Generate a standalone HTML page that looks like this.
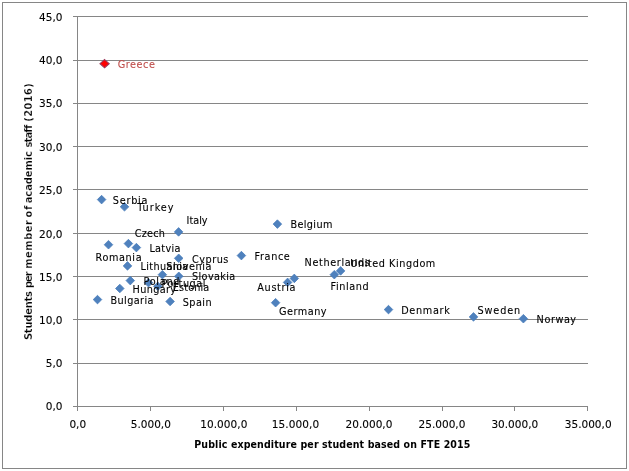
<!DOCTYPE html>
<html lang="en"><head><meta charset="utf-8"><title>Students per member of academic staff vs public expenditure per student</title>
<style>
html,body{margin:0;padding:0;background:#fff;}
body{width:629px;height:471px;overflow:hidden;}
svg{display:block;will-change:transform;opacity:0.999;}
text{font-family:"DejaVu Sans","Liberation Sans",sans-serif;font-size:9.7px;fill:#000;stroke:#000;stroke-width:0.1px;}
.b{font-family:"DejaVu Sans Condensed","DejaVu Sans","Liberation Sans",sans-serif;font-weight:bold;font-size:10.5px;stroke:none;}
.a{font-size:10.5px;}
.b.yb{font-size:11px;stroke:#fff;stroke-width:0.22px;}
.g{stroke:#868686;stroke-width:1;shape-rendering:crispEdges;fill:none;}
.m{fill:#4F81BD;stroke:#4A7EBB;stroke-width:0.75;}
</style></head><body>
<svg width="629" height="471" viewBox="0 0 629 471">
<rect x="0" y="0" width="629" height="471" fill="#fff"/>
<rect class="g" x="2.5" y="2.5" width="624" height="466"/>

<line class="g" x1="73" y1="406.5" x2="588" y2="406.5"/>
<text class="a" x="62.5" y="409.5" text-anchor="end">0,0</text>
<line class="g" x1="73" y1="363.5" x2="588" y2="363.5"/>
<text class="a" x="62.5" y="366.5" text-anchor="end">5,0</text>
<line class="g" x1="73" y1="319.5" x2="588" y2="319.5"/>
<text class="a" x="62.5" y="323.5" text-anchor="end">10,0</text>
<line class="g" x1="73" y1="276.5" x2="588" y2="276.5"/>
<text class="a" x="62.5" y="280.5" text-anchor="end">15,0</text>
<line class="g" x1="73" y1="233.5" x2="588" y2="233.5"/>
<text class="a" x="62.5" y="237.5" text-anchor="end">20,0</text>
<line class="g" x1="73" y1="189.5" x2="588" y2="189.5"/>
<text class="a" x="62.5" y="193.5" text-anchor="end">25,0</text>
<line class="g" x1="73" y1="146.5" x2="588" y2="146.5"/>
<text class="a" x="62.5" y="150.5" text-anchor="end">30,0</text>
<line class="g" x1="73" y1="103.5" x2="588" y2="103.5"/>
<text class="a" x="62.5" y="106.5" text-anchor="end">35,0</text>
<line class="g" x1="73" y1="60.5" x2="588" y2="60.5"/>
<text class="a" x="62.5" y="64.0" text-anchor="end">40,0</text>
<line class="g" x1="73" y1="16.5" x2="588" y2="16.5"/>
<text class="a" x="62.5" y="20.5" text-anchor="end">45,0</text>
<line class="g" x1="77.5" y1="16" x2="77.5" y2="407"/>
<line class="g" x1="77.5" y1="406" x2="77.5" y2="411"/>
<text class="a" x="77.8" y="428" text-anchor="middle">0,0</text>
<line class="g" x1="150.5" y1="406" x2="150.5" y2="411"/>
<text class="a" x="150.8" y="428" text-anchor="middle">5.000,0</text>
<line class="g" x1="223.5" y1="406" x2="223.5" y2="411"/>
<text class="a" x="223.8" y="428" text-anchor="middle" textLength="47.3" lengthAdjust="spacing">10.000,0</text>
<line class="g" x1="296.5" y1="406" x2="296.5" y2="411"/>
<text class="a" x="295.5" y="428" text-anchor="middle" textLength="47.3" lengthAdjust="spacing">15.000,0</text>
<line class="g" x1="369.5" y1="406" x2="369.5" y2="411"/>
<text class="a" x="369.0" y="428" text-anchor="middle" textLength="46.8" lengthAdjust="spacing">20.000,0</text>
<line class="g" x1="442.5" y1="406" x2="442.5" y2="411"/>
<text class="a" x="442.0" y="428" text-anchor="middle" textLength="46.8" lengthAdjust="spacing">25.000,0</text>
<line class="g" x1="514.5" y1="406" x2="514.5" y2="411"/>
<text class="a" x="514.8" y="428" text-anchor="middle">30.000,0</text>
<line class="g" x1="587.5" y1="406" x2="587.5" y2="411"/>
<text class="a" x="588.2" y="428" text-anchor="middle">35.000,0</text>
<text class="b" x="194.3" y="447.7" textLength="276" lengthAdjust="spacing">Public expenditure per student based on FTE 2015</text>
<g transform="translate(32.2,0) rotate(-90)">
<text class="b yb" x="-340.1" y="0" textLength="49.1" lengthAdjust="spacing">Students</text>
<text class="b yb" x="-287.9" y="0" textLength="16.5" lengthAdjust="spacing">per</text>
<text class="b yb" x="-268.8" y="0" textLength="48.7" lengthAdjust="spacing">member</text>
<text class="b yb" x="-217.5" y="0" textLength="11.8" lengthAdjust="spacing">of</text>
<text class="b yb" x="-203.3" y="0" textLength="52.2" lengthAdjust="spacing">academic</text>
<text class="b yb" x="-147.4" y="0" textLength="22.7" lengthAdjust="spacing">staff</text>
<text class="b yb" x="-121.7" y="0" textLength="38.4" lengthAdjust="spacing">(2016)</text>
</g>
<path class="m"  d="M101.60 195.30L105.90 199.60L101.60 203.90L97.30 199.60Z"/>
<path class="m"  d="M124.50 202.50L128.80 206.80L124.50 211.10L120.20 206.80Z"/>
<path class="m"  d="M178.60 227.60L182.90 231.90L178.60 236.20L174.30 231.90Z"/>
<path class="m"  d="M108.50 240.40L112.80 244.70L108.50 249.00L104.20 244.70Z"/>
<path class="m"  d="M128.40 239.30L132.70 243.60L128.40 247.90L124.10 243.60Z"/>
<path class="m"  d="M136.40 243.30L140.70 247.60L136.40 251.90L132.10 247.60Z"/>
<path class="m"  d="M178.70 254.00L183.00 258.30L178.70 262.60L174.40 258.30Z"/>
<path class="m"  d="M127.50 261.60L131.80 265.90L127.50 270.20L123.20 265.90Z"/>
<path class="m"  d="M162.40 270.40L166.70 274.70L162.40 279.00L158.10 274.70Z"/>
<path class="m"  d="M178.80 272.00L183.10 276.30L178.80 280.60L174.50 276.30Z"/>
<path class="m"  d="M130.30 276.30L134.60 280.60L130.30 284.90L126.00 280.60Z"/>
<path class="m"  d="M148.50 278.40L152.80 282.70L148.50 287.00L144.20 282.70Z"/>
<path class="m"  d="M157.80 282.00L162.10 286.30L157.80 290.60L153.50 286.30Z"/>
<path class="m"  d="M119.80 284.20L124.10 288.50L119.80 292.80L115.50 288.50Z"/>
<path class="m"  d="M97.50 295.30L101.80 299.60L97.50 303.90L93.20 299.60Z"/>
<path class="m"  d="M170.10 297.20L174.40 301.50L170.10 305.80L165.80 301.50Z"/>
<path class="m"  d="M241.40 251.30L245.70 255.60L241.40 259.90L237.10 255.60Z"/>
<path class="m"  d="M277.40 219.80L281.70 224.10L277.40 228.40L273.10 224.10Z"/>
<path class="m"  d="M275.60 298.40L279.90 302.70L275.60 307.00L271.30 302.70Z"/>
<path class="m"  d="M287.60 278.10L291.90 282.40L287.60 286.70L283.30 282.40Z"/>
<path class="m"  d="M294.30 274.10L298.60 278.40L294.30 282.70L290.00 278.40Z"/>
<path class="m"  d="M334.30 270.40L338.60 274.70L334.30 279.00L330.00 274.70Z"/>
<path class="m"  d="M340.60 266.60L344.90 270.90L340.60 275.20L336.30 270.90Z"/>
<path class="m"  d="M388.50 305.30L392.80 309.60L388.50 313.90L384.20 309.60Z"/>
<path class="m"  d="M473.50 312.60L477.80 316.90L473.50 321.20L469.20 316.90Z"/>
<path class="m"  d="M523.40 314.40L527.70 318.70L523.40 323.00L519.10 318.70Z"/>
<path class="m" style="fill:#FF0000;stroke:#9C3A5C;stroke-width:1.1" d="M104.60 59.60L109.20 63.70L104.60 67.80L100.00 63.70Z"/>
<text x="112.8" y="204.0" textLength="34.7" lengthAdjust="spacing">Serbia</text>
<text x="137.2" y="211.1" textLength="36.3" lengthAdjust="spacing">Turkey</text>
<text x="186.6" y="224.0" textLength="21.0" lengthAdjust="spacing">Italy</text>
<text x="134.7" y="237.3" textLength="30.2" lengthAdjust="spacing">Czech</text>
<text x="149.4" y="252.2" textLength="31.0" lengthAdjust="spacing">Latvia</text>
<text x="95.6" y="260.8" textLength="46.0" lengthAdjust="spacing">Romania</text>
<text x="192.0" y="262.9" textLength="36.4" lengthAdjust="spacing">Cyprus</text>
<text x="140.5" y="269.8" textLength="47.7" lengthAdjust="spacing">Lithuania</text>
<text x="166.3" y="269.8" textLength="45.1" lengthAdjust="spacing">Slovenia</text>
<text x="192.0" y="280.0" textLength="43.3" lengthAdjust="spacing">Slovakia</text>
<text x="143.4" y="284.5" textLength="36.0" lengthAdjust="spacing">Poland</text>
<text x="161.5" y="286.5" textLength="44.0" lengthAdjust="spacing">Portugal</text>
<text x="132.5" y="292.7" textLength="43.6" lengthAdjust="spacing">Hungary</text>
<text x="172.8" y="290.8" textLength="36.5" lengthAdjust="spacing">Estonia</text>
<text x="110.5" y="303.8" textLength="43.0" lengthAdjust="spacing">Bulgaria</text>
<text x="182.7" y="305.6" textLength="28.9" lengthAdjust="spacing">Spain</text>
<text x="254.5" y="260.0" textLength="35.3" lengthAdjust="spacing">France</text>
<text x="290.4" y="228.1" textLength="42.0" lengthAdjust="spacing">Belgium</text>
<text x="304.5" y="266.0" textLength="65.4" lengthAdjust="spacing">Netherlands</text>
<text x="350.3" y="266.7" textLength="85.0" lengthAdjust="spacing">United Kingdom</text>
<text x="257.3" y="290.9" textLength="38.2" lengthAdjust="spacing">Austria</text>
<text x="278.9" y="315.2" textLength="47.7" lengthAdjust="spacing">Germany</text>
<text x="330.5" y="289.7" textLength="38.2" lengthAdjust="spacing">Finland</text>
<text x="401.2" y="313.9" textLength="48.6" lengthAdjust="spacing">Denmark</text>
<text x="477.5" y="314.3" textLength="42.6" lengthAdjust="spacing">Sweden</text>
<text x="536.6" y="322.7" textLength="39.5" lengthAdjust="spacing">Norway</text>
<text x="117.7" y="67.6" textLength="37.2" lengthAdjust="spacing" style="fill:#C0504D;stroke:#C0504D">Greece</text>
</svg></body></html>
